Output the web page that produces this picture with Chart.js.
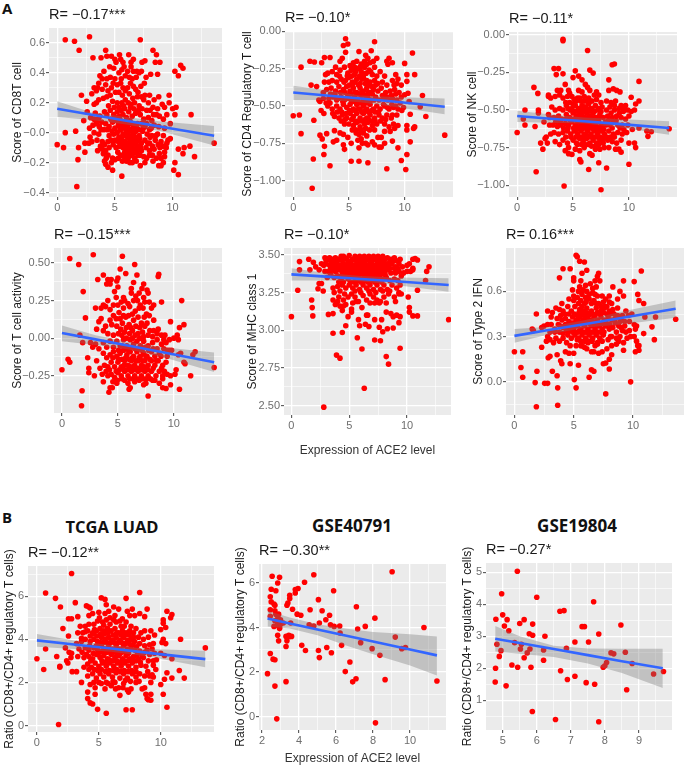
<!DOCTYPE html>
<html>
<head>
<meta charset="utf-8">
<title>ACE2 correlation scatter plots</title>
<script src="https://cdn.jsdelivr.net/npm/chart.js@4"></script>
<style>
  html, body { margin: 0; padding: 0; background: #fff; }
  #page { position: relative; width: 688px; height: 767px; overflow: hidden; font-family: "Liberation Sans", sans-serif; }
  canvas { position: absolute; }
  .tag { position: absolute; font: bold 15px "Open Sans", sans-serif; color: #111; line-height: 16px; }
  .head { position: absolute; font: bold 16.5px "Open Sans", sans-serif; color: #111; line-height: 20px; transform: translateX(-50%); white-space: nowrap; }
</style>
</head>
<body>
<div id="page">
  <div class="tag" style="left:2px;top:0px">A</div>
  <div class="tag" style="left:2px;top:509px">B</div>
  <div class="head" style="left:112px;top:517px">TCGA LUAD</div>
  <div class="head" style="left:352px;top:516px;font-size:17px">GSE40791</div>
  <div class="head" style="left:577px;top:516px;font-size:17px">GSE19804</div>
</div>
<script>
// values: [ACE2 level, score]
const cd8Points = [[0,-.08],[.55,-.1],[.7,.62],[.7,0],[1.5,.61],[1.6,.01],[1.9,.55],[1.85,-.1],[1.8,-.18],[1.7,-.36],[2.1,.25],[2.3,.08],[2.4,-.07],[2.4,-.13],[2.6,.14],[2.55,.21],[2.8,.64],[2.75,-.07],[3,.26],[3.1,.5],[3,-.06],[5.6,-.29],[7.2,.62],[8.3,.55],[8.6,.52],[8.9,.47],[8.5,.47],[10.7,.45],[10.9,.43],[10.2,.41],[10.5,.38],[11.6,.12],[10.3,.17],[10,.16],[10.2,.12],[9.7,.25],[9.7,.2],[10.5,-.28],[10.1,-.25],[10.2,-.2],[10.5,-.11],[10.9,-.14],[11,-.1],[11.5,-.09],[11.9,-.16],[13.6,-.07],
[3.8,.5],[4.2,.55],[4.3,.51],[4.7,.51],[5,.49],[5.1,.47],[5.4,.52],[5.5,.49],[6.2,.52],[6.4,.47],[6.6,.49],[7.6,.48],
[3.7,.38],[3.9,.36],[4.3,.36],[4.6,.37],[4.9,.43],[5,.36],[5.6,.42],[5.8,.44],[5.9,.38],[6.1,.41],[6.4,.44],[6.6,.41],[6.9,.41],[7.1,.4],[7.3,.41],[7.7,.37],[8.1,.39],[8.7,.39],[6.5,.36],[3.5,.3],[3.2,.3],
[3.6,.33],[3.4,.28],[3.9,.29],[4.4,.28],[4.7,.3],[5.2,.32],[5.5,.33],[5.7,.3],[5.9,.28],[6.1,.3],[6.6,.31],[6.8,.29],[7,.27],[7.3,.24],[7.6,.25],[8,.25],[8.4,.22],[8.8,.24],[9.1,.19],
[3.2,.19],[3.4,.2],[3.6,.22],[4,.23],[4.3,.24],[4.6,.25],[4.8,.21],[5.2,.2],[5.6,.2],[5.9,.22],[6.4,.19],[6.7,.2],[7.1,.18],[7.5,.22],[7.9,.2],[8.3,.17],[8.7,.16],[9.3,.17],
[2.9,.1],[3.3,.13],[3.7,.11],[4.1,.14],[4.3,.12],[4.6,.15],[4.9,.12],[5.2,.14],[5.4,.11],[5.7,.12],[6,.1],[6.2,.14],[6.5,.11],[6.8,.13],[7.2,.12],[7.5,.09],[7.9,.1],[8.2,.08],[8.6,.12],[9.2,.09],
[2.8,.03],[3.1,.05],[3.4,.06],[3.8,.02],[4.2,.06],[4.5,.04],[4.8,.07],[5,.03],[5.3,.05],[5.5,.08],[5.8,.06],[6.1,.04],[6.3,.08],[6.6,.05],[6.9,.03],[7.3,.06],[7.6,.04],[8,.02],[8.4,.05],[8.8,.04],[9.3,.03],[9.8,.06],
[3.2,0],[3.6,-.01],[4.5,-.02],[4.9,-.01],[5.2,0],[5.5,.02],[5.7,-.01],[6,.01],[6.2,-.02],[6.4,.02],[6.6,-.01],[6.8,.01],[7.1,-.02],[7.4,.01],[7.8,-.01],[8.2,-.02],[8.7,-.01],[9.2,-.02],[9.6,-.05],
[3.9,-.06],[4.1,-.08],[4.4,-.06],[5,-.05],[5.3,-.06],[5.6,-.04],[5.9,-.06],[6.1,-.03],[6.3,-.06],[6.5,-.04],[6.7,-.06],[7,-.05],[7.3,-.07],[7.6,-.05],[8,-.07],[8.5,-.05],[9,-.06],[9.5,-.07],[9.8,-.04],
[3.5,-.12],[3.9,-.11],[4.2,-.12],[4.5,-.1],[5.1,-.1],[5.4,-.09],[5.7,-.1],[6,-.11],[6.2,-.09],[6.5,-.1],[6.8,-.11],[7,-.09],[7.3,-.12],[7.7,-.1],[8,-.12],[8.4,-.11],[8.9,-.1],[9.3,-.13],
[4,-.14],[4.4,-.15],[4.8,-.17],[5.5,-.15],[5.8,-.16],[6.1,-.14],[6.4,-.15],[6.7,-.17],[7,-.15],[7.5,-.16],[8,-.15],[8.6,-.17],[9,-.17],[9.3,-.16],
[4.2,-.21],[4.4,-.23],[4.7,-.2],[5,-.18],[6,-.19],[6.3,-.2],[6.5,-.2],[7.2,-.22],[7.6,-.2],[8.3,-.19],[8.8,-.22],[9,-.22],[9.2,-.2],[4.8,-.25]];
const cd8Core = [[5.15,.08],[5.45,.02],[5.65,.05],[5.85,.03],[5.95,-.02],[6.05,-.08],[6.15,.07],[6.25,.01],[6.35,-.03],[6.45,.06],[6.55,-.07],[6.6,.03],[6.75,-.03],[6.85,-.08],[6.95,.06],[7.05,.02],[7.15,-.04],[7.25,-.1],[5.35,-.03],[5.5,-.07],[5.75,-.07],[5.85,-.13],[6.15,-.12],[6.35,-.12],[6.55,-.14],[6.75,-.13],[6.95,-.12],[7.15,-.15],[5.25,-.13],[4.85,-.08],[4.65,-.05],[4.75,.01],[4.35,.02],[4.05,.02],[3.65,.04],[4.65,.09],[5.05,.09],[5.25,.1],[5.55,.15],[5.85,.16],[6.35,.17],[6.65,.16],[7.05,.15],[7.35,.16],[4.45,.18],[4.95,.17],[5.35,.17],[5.75,.18],[6.15,.2],[6.55,.23],[6.95,.24],[7.75,.15],[8.05,.15],[7.45,.03],[7.75,.06],[8.15,.03],[8.55,-.02],[8.05,-.03],[7.85,-.07],[8.25,-.09],[8.75,-.08],[9.15,-.09],[8.85,-.14],[8.25,-.15],[7.75,-.17],[5.65,.25],[6.25,.26],[5.35,.27],[4.85,.33],[5.05,.27],[6.35,.33],[7.25,.31],[7.55,.33],[4.2,.32],[4.05,.41],[5.35,.4],[5.55,.36],[6.25,.37],[6.85,.37],[7.35,.47],[5.7,.47],[4.55,.44],[3.85,.07],[3.55,.09],[3.2,.09],[2.85,-.03],[3.45,-.05],[3.75,-.09],[4.25,-.17],[4.1,-.19],[5.3,-.17],[5.65,-.19],[6.15,-.17],[6.85,-.19],[8.35,.12],[8.85,.11],[9.5,.12],[9.45,-.1]];

const tregPoints = [[0,-.565],[.55,-.56],[.7,-.24],[.7,-.685],[1.5,-.2],[1.6,-.36],[1.9,-.205],[1.85,-.595],[1.8,-.855],[1.7,-1.05],[2.1,-.37],[2.3,-.46],[2.4,-.47],[2.5,-.53],[2.4,-.695],[2.55,-.21],[2.8,-.175],[2.75,-.55],[2.6,-.72],[2.8,-.77],[2.75,-.825],[3,-.685],[3.3,-.175],[3.3,-.9],[4.7,-.05],[4.9,-.085],[4.5,-.095],[4.7,-.14],[7.3,-.07],[5.9,-.135],[7,-.13],[6.5,-.16],[8.4,-.2],[8.6,-.18],[8.9,-.21],[8.5,-.22],[10,-.215],[10.7,-.145],[10.9,-.29],[10.2,-.29],[10.2,-.335],[11.6,-.43],[11.9,-.57],[11.4,-.505],[10.3,-.415],[10,-.425],[10.4,-.47],[10.5,-.555],[10.2,-.63],[10.2,-.66],[10.9,-.64],[10.8,-.65],[10.5,-.74],[10.2,-.825],[10.1,-.925],[9.7,-.865],[9.4,-.78],[8.4,-.92],[13.6,-.695],[5.2,-.87],[5.9,-.87],[6.7,-.88],[4.6,-.79],[4.5,-.76],[3.6,-.74],[3.9,-.73],[3.7,-.665],[4.2,-.68],[4.5,-.69],[4.9,-.71],[5.2,-.75],[5.9,-.78],[6.2,-.75],[6.5,-.75],[6.7,-.76],[7.1,-.74],[7.3,-.76],[7.7,-.775],[7.9,-.775],[8.2,-.75],[8.9,-.735],
[4.2,-.2],[4.4,-.18],[3.8,-.24],[5.1,-.23],[5.4,-.21],[5.7,-.2],[6.1,-.22],[6.4,-.2],[6.7,-.18],[6.9,-.21],[7.2,-.2],[7.5,-.18],
[2.9,-.29],[3.1,-.28],[3.5,-.27],[3.9,-.29],[4.2,-.26],[4.6,-.24],[4.9,-.28],[5.2,-.26],[5.5,-.29],[5.8,-.25],[6.1,-.27],[6.4,-.24],[6.8,-.26],[7.1,-.29],[7.5,-.3],[7.8,-.27],[8.2,-.3],[9.2,-.29],[9.4,-.32],
[2.8,-.34],[3.2,-.34],[3.5,-.33],[3.9,-.34],[4.3,-.32],[4.7,-.33],[5,-.31],[5.3,-.34],[5.7,-.32],[6,-.35],[6.3,-.31],[6.6,-.33],[6.9,-.34],[7.3,-.33],[7.6,-.35],[8,-.34],[8.4,-.36],[8.9,-.33],[9.3,-.35],[9.7,-.36],
[2.7,-.41],[3,-.39],[3.4,-.38],[3.8,-.4],[4.1,-.37],[4.5,-.39],[4.8,-.37],[5.1,-.4],[5.4,-.38],[5.7,-.41],[6,-.38],[6.3,-.4],[6.6,-.38],[6.9,-.41],[7.2,-.39],[7.6,-.4],[7.9,-.38],[8.3,-.41],[8.7,-.4],[9.1,-.39],[9.5,-.41],
[2.7,-.45],[3.2,-.45],[3.6,-.44],[3.9,-.46],[4.3,-.44],[4.6,-.46],[4.9,-.43],[5.2,-.46],[5.5,-.44],[5.8,-.46],[6.1,-.43],[6.4,-.46],[6.7,-.44],[7,-.46],[7.4,-.44],[7.7,-.46],[8.1,-.45],[8.5,-.46],[8.9,-.45],[9.3,-.46],[9.7,-.44],
[3.1,-.5],[3.5,-.52],[3.9,-.5],[4.2,-.52],[4.5,-.49],[4.8,-.51],[5.1,-.49],[5.4,-.52],[5.7,-.49],[6,-.52],[6.3,-.5],[6.6,-.52],[6.9,-.49],[7.2,-.52],[7.5,-.5],[7.8,-.52],[8.2,-.5],[8.6,-.52],[9,-.51],[9.4,-.52],[9.9,-.51],
[3.7,-.57],[4.1,-.58],[4.4,-.56],[4.8,-.58],[5.1,-.55],[5.4,-.57],[5.7,-.55],[6,-.58],[6.3,-.55],[6.6,-.58],[6.9,-.56],[7.3,-.58],[7.7,-.56],[8,-.58],[8.4,-.56],[8.8,-.58],[9.3,-.56],
[4.6,-.62],[5,-.62],[5.4,-.63],[5.7,-.61],[6,-.64],[6.4,-.62],[6.7,-.61],[7.1,-.63],[7.5,-.62],[8.2,-.62],[8.6,-.64],[9,-.62],[9.4,-.63],[8.7,-.67],[9.1,-.65],
[5.6,-.66],[5.9,-.69],[6.3,-.68],[6.1,-.72],[6.6,-.7],[7.6,-.71],[7.9,-.71],[5.8,-.73],[8.2,-.67]];
const tregCore = [[4.65,-.41],[4.95,-.45],[5.15,-.42],[5.35,-.47],[5.55,-.41],[5.65,-.47],[5.85,-.42],[5.95,-.48],[6.15,-.41],[6.25,-.47],[6.45,-.43],[6.55,-.48],[6.75,-.41],[6.85,-.47],[7.1,-.42],[7.25,-.46],[4.45,-.47],[4.25,-.41],[4.05,-.45],[3.75,-.42],[3.35,-.42],[5.05,-.36],[5.3,-.36],[5.55,-.34],[5.85,-.36],[6.15,-.32],[6.45,-.35],[6.75,-.36],[7.05,-.37],[7.4,-.36],[4.55,-.34],[4.15,-.3],[4.85,-.3],[5.25,-.3],[5.6,-.27],[5.95,-.3],[6.25,-.29],[6.55,-.28],[6.95,-.27],[7.3,-.24],[5.5,-.24],[6,-.24],[6.6,-.22],[4.75,-.55],[5.05,-.53],[5.25,-.53],[5.55,-.53],[5.85,-.52],[6.15,-.54],[6.45,-.53],[6.75,-.54],[7.05,-.53],[7.35,-.54],[7.65,-.54],[4.35,-.54],[3.95,-.54],[3.55,-.55],[5.25,-.59],[5.55,-.6],[5.85,-.6],[6.15,-.6],[6.45,-.59],[6.75,-.59],[7.05,-.6],[7.35,-.6],[7.85,-.6],[8.3,-.59],[8.9,-.56],[4.65,-.59],[4.3,-.6],[5.3,-.66],[5.65,-.68],[6.05,-.66],[6.5,-.65],[6.85,-.66],[7.3,-.66],[8,-.43],[8.4,-.44],[8.8,-.43],[9.2,-.42],[8.1,-.49],[8.45,-.51],[8.85,-.49],[9.2,-.5],[9.6,-.48],[9.75,-.53],[2.95,-.48],[3.3,-.48],[9.05,-.36]];

const nkPoints = [[0,-.65],[.55,-.56],[.7,-.5],[.7,-.6],[1.5,-.35],[1.6,-.61],[1.85,-.39],[1.9,-.5],[1.9,-.52],[1.7,-.91],[2.1,-.72],[2.3,-.76],[2.4,-.58],[2.5,-.69],[2.6,-.68],[2.7,-.72],[2.8,-.4],[2.8,-.53],[3.3,-.225],[3.7,-.225],[3.5,-.265],[4.1,-.26],[4.1,-.03],[4.1,-.04],[4.2,-1.005],[6.3,-.105],[6.5,-.235],[6.8,-.255],[5.2,-.24],[5.5,-.275],[5,-.285],[4.3,-.33],[8.5,-.2],[8.7,-.195],[8.2,-.3],[8.6,-.36],[8.9,-.37],[9.2,-.38],[8.2,-.37],[10.9,-.31],[10.2,-.415],[10.9,-.44],[10.6,-.46],[10.2,-.51],[10.5,-.5],[10,-.54],[10.3,-.63],[10.9,-.62],[11.6,-.64],[11.7,-.675],[12,-.645],[13.6,-.625],[10.5,-.72],[10.6,-.75],[10,-.72],[10,-.86],[7.5,-1.03],[8,-.885],[6.4,-.895],[7.3,-.85],[5.6,-.83],[5.7,-.845],[4.6,-.79],[4.9,-.795],
[5.8,-.3],[6.1,-.33],[6.3,-.35],[6.5,-.37],[3.6,-.37],[3.9,-.37],[4.6,-.37],[4.7,-.39],[5.5,-.37],[5.8,-.38],[7.1,-.38],[6.9,-.4],[7.3,-.4],[2.8,-.41],[3,-.42],[3.4,-.41],[3.8,-.4],[4.1,-.42],[4.5,-.41],[5.1,-.43],[5.4,-.42],[5.7,-.44],[6,-.41],[6.4,-.42],[6.7,-.44],[7.1,-.43],[7.5,-.45],[8,-.44],[8.4,-.45],[8.8,-.44],[9.3,-.47],[9.7,-.47],
[3.1,-.48],[3.4,-.5],[3.8,-.49],[4.1,-.5],[4.4,-.47],[4.7,-.45],[4.9,-.49],[5.2,-.47],[5.5,-.49],[5.8,-.47],[6.1,-.48],[6.4,-.46],[6.7,-.49],[7,-.47],[7.3,-.49],[7.6,-.48],[8,-.5],[8.3,-.48],[8.7,-.5],[9.1,-.49],[9.5,-.51],[9.9,-.5],
[2.9,-.55],[3.3,-.55],[3.7,-.54],[4,-.56],[4.4,-.53],[4.7,-.55],[5,-.52],[5.3,-.54],[5.6,-.52],[5.9,-.55],[6.2,-.52],[6.5,-.54],[6.8,-.52],[7.1,-.55],[7.4,-.53],[7.7,-.55],[8.1,-.54],[8.5,-.55],[8.9,-.54],[9.3,-.55],[9.7,-.56],
[2.9,-.6],[3.2,-.6],[3.6,-.61],[3.9,-.6],[4.3,-.59],[4.6,-.6],[4.9,-.58],[5.2,-.6],[5.5,-.58],[5.8,-.6],[6.1,-.58],[6.4,-.6],[6.7,-.58],[7,-.6],[7.3,-.58],[7.6,-.6],[7.9,-.58],[8.3,-.6],[8.6,-.58],[9,-.6],[9.4,-.6],[9.9,-.6],
[3,-.66],[3.3,-.65],[3.7,-.66],[4.1,-.65],[4.5,-.64],[4.8,-.66],[5.1,-.64],[5.4,-.66],[5.7,-.64],[6,-.66],[6.3,-.64],[6.6,-.66],[6.9,-.64],[7.2,-.66],[7.5,-.64],[7.8,-.66],[8.2,-.64],[8.6,-.66],[9,-.65],[9.4,-.66],[9.8,-.65],
[3.4,-.71],[3.8,-.73],[4.1,-.7],[4.5,-.72],[5,-.7],[5.3,-.72],[5.6,-.69],[5.9,-.71],[6.2,-.69],[6.5,-.72],[6.8,-.7],[7.1,-.72],[7.4,-.7],[7.7,-.72],[8.1,-.7],[8.5,-.71],[8.9,-.72],[9.3,-.7],
[4.3,-.77],[4.6,-.75],[5.2,-.76],[5.6,-.77],[6,-.75],[6.5,-.79],[6.7,-.8],[7,-.76],[7.4,-.76],[7.8,-.75],[8.2,-.75],[8.8,-.76],[9.1,-.76],[9.3,-.78]];
const nkCore = [[5.05,-.56],[5.35,-.57],[5.5,-.55],[5.65,-.57],[5.8,-.54],[5.95,-.57],[6.05,-.55],[6.2,-.56],[6.35,-.55],[6.5,-.57],[6.65,-.55],[6.8,-.57],[6.95,-.55],[7.15,-.57],[7.3,-.56],[5.05,-.62],[5.3,-.63],[5.45,-.62],[5.6,-.61],[5.75,-.63],[5.95,-.62],[6.1,-.61],[6.25,-.63],[6.4,-.62],[6.55,-.62],[6.7,-.61],[6.85,-.63],[7.05,-.62],[7.2,-.63],[7.45,-.61],[7.75,-.63],[4.55,-.62],[4.75,-.57],[4.35,-.56],[4.15,-.62],[3.85,-.58],[3.45,-.58],[5.2,-.51],[5.45,-.5],[5.65,-.5],[5.85,-.51],[6,-.48],[6.2,-.5],[6.35,-.51],[6.55,-.49],[6.7,-.51],[6.9,-.51],[7.2,-.5],[7.5,-.51],[4.55,-.49],[4.75,-.5],[5,-.46],[5.3,-.44],[5.6,-.42],[6.15,-.44],[6.55,-.44],[5.95,-.44],[5.25,-.68],[5.5,-.68],[5.7,-.68],[5.95,-.68],[6.2,-.67],[6.4,-.68],[6.65,-.68],[6.9,-.68],[7.15,-.68],[7.4,-.68],[7.7,-.69],[8,-.68],[8.35,-.68],[8.7,-.68],[4.8,-.68],[4.35,-.68],[5.4,-.73],[5.75,-.73],[6.05,-.73],[6.35,-.73],[6.65,-.74],[7,-.74],[7.3,-.73],[7.95,-.6],[8.15,-.57],[8.5,-.62],[8.85,-.57],[9.2,-.62],[9.55,-.63],[8.4,-.52],[8.7,-.47],[9.15,-.52],[9.5,-.49],[4.9,-.41],[4.35,-.45]];

const activityPoints = [[0,-.21],[.55,-.14],[.7,.53],[.7,-.16],[1.5,.49],[1.6,.02],[1.9,.31],[1.85,-.03],[1.8,-.35],[1.75,-.45],[2.1,.135],[2.3,-.13],[2.4,-.2],[2.4,-.23],[2.55,-.03],[2.8,.555],[2.75,-.06],[3,.2],[3.2,.39],[2.9,-.25],[5.4,.545],[5.2,.46],[5.7,.43],[6.5,.49],[6.7,.42],[8.6,.41],[8.65,.425],[7.3,.36],[6.4,.37],[7.6,.32],[7.7,.3],[3.7,.42],[4.1,.39],[4,.36],[4.4,.39],[4.9,.38],[5,.4],[4.3,.36],[4.7,.31],[5,.34],[8.9,.24],[9.7,.11],[10.7,.25],[10.9,.09],[10.5,.07],[10.3,.02],[10,0],[10.4,-.01],[9.6,-.08],[10.4,-.11],[10.6,-.1],[10.9,-.16],[11,-.17],[11.7,-.11],[11.9,-.09],[11.5,-.25],[13.6,-.195],[10.5,-.34],[9,-.33],[9.3,-.335],[9.7,-.31],[7.7,-.385],[4.2,-.36],[4.5,-.33],[4.3,-.33],[4.9,-.3],[6,-.34],
[3.5,.2],[3.7,.22],[3.9,.21],[4.1,.25],[4.6,.22],[5,.22],[5.3,.24],[5.6,.25],[5.9,.23],[6.2,.3],[6.6,.28],[6.9,.3],[7.3,.27],[7.4,.24],[7.8,.24],[8.2,.22],[8,.2],[5.5,.2],[6.4,.25],[7,.22],
[3.1,.06],[3.3,.11],[3.5,.13],[3.9,.08],[4.3,.12],[4.6,.15],[4.9,.08],[5.1,.17],[5.4,.1],[5.7,.14],[6,.09],[6.4,.12],[6.8,.14],[7.1,.1],[7.4,.08],[7.8,.15],[8.2,.05],[8.6,.06],[4.1,.03],[4.6,.02],[5.6,.04],[6.3,.05],[6.8,.03],[7.2,.04],[7.7,.02],[8.1,.01],[8.9,.02],[9.2,.02],
[3,-.04],[3.3,-.07],[3.7,-.03],[4,-.06],[4.3,-.02],[4.6,-.06],[4.9,-.02],[5.2,-.05],[5.5,-.01],[5.8,-.05],[6.1,-.01],[6.4,-.04],[6.7,-.02],[7,-.05],[7.3,-.02],[7.7,-.05],[8.1,-.03],[8.5,-.01],[8.9,-.04],[9.3,-.03],[9.6,-.01],
[3.7,-.1],[4,-.13],[4.3,-.11],[4.6,-.09],[4.9,-.12],[5.2,-.1],[5.5,-.08],[5.8,-.11],[6.1,-.09],[6.4,-.12],[6.7,-.09],[7,-.12],[7.3,-.1],[7.6,-.12],[8,-.09],[8.3,-.12],[8.7,-.1],[9.1,-.07],[9.4,-.12],[9.8,-.08],
[3.1,-.15],[3.4,-.2],[3.8,-.18],[4.1,-.19],[4.4,-.16],[4.7,-.19],[5,-.16],[5.3,-.19],[5.6,-.15],[5.9,-.18],[6.2,-.15],[6.5,-.18],[6.8,-.15],[7.1,-.18],[7.4,-.15],[7.7,-.18],[8,-.15],[8.3,-.18],[8.6,-.15],[9,-.18],[9.3,-.16],
[3.6,-.24],[3.7,-.29],[4.1,-.25],[4.4,-.24],[4.7,-.26],[5,-.23],[5.3,-.25],[5.6,-.22],[5.9,-.25],[6.2,-.22],[6.5,-.25],[6.8,-.22],[7.1,-.25],[7.4,-.22],[7.7,-.25],[8,-.22],[8.4,-.25],[8.7,-.22],[9,-.25],[9.4,-.24],[10.1,-.24],[10.2,-.21],[9.7,-.25],
[5.6,-.28],[5.9,-.3],[6.1,-.33],[6.5,-.29],[6.9,-.28],[7.3,-.31],[7.5,-.3],[8.1,-.28],[8.7,-.3],[9,-.27]];
const activityCore = [[5.05,-.14],[5.35,-.14],[5.55,-.18],[5.7,-.13],[5.85,-.21],[6,-.14],[6.15,-.19],[6.3,-.13],[6.45,-.21],[6.6,-.15],[6.75,-.2],[6.9,-.13],[7.05,-.21],[7.2,-.15],[7.35,-.19],[7.5,-.12],[7.65,-.21],[7.85,-.14],[8.15,-.2],[8.45,-.15],[4.85,-.22],[4.55,-.13],[4.25,-.21],[3.95,-.22],[5.15,-.21],[5.45,-.2],[6.05,-.27],[6.35,-.27],[6.65,-.27],[6.95,-.27],[7.25,-.27],[7.55,-.27],[7.9,-.27],[5.35,-.27],[4.95,-.28],[4.55,-.29],[5.05,-.08],[5.35,-.05],[5.65,-.06],[5.95,-.08],[6.25,-.06],[6.55,-.07],[6.85,-.07],[7.15,-.08],[7.45,-.06],[7.75,-.08],[8.15,-.07],[8.5,-.07],[8.85,-.12],[5.05,.03],[5.35,.02],[5.75,0],[6.05,.03],[6.3,0],[6.55,.02],[6.95,0],[7.3,.01],[7.85,.05],[5.25,.06],[5.75,.07],[6.15,.07],[6.6,.08],[6.95,.07],[7.35,.14],[7.6,.1],[6.3,.16],[6.55,.18],[6.9,.2],[5.95,.15],[5.5,.15],[5.2,.13],[4.85,.13],[4.3,.19],[4.45,.09],[3.7,.05],[4.85,.27],[5.5,.27],[6.05,.21],[6.75,.25],[7.25,.2],[7.55,.16],[8.2,.12],[8.5,.03],[9.1,-.01],[9.4,-.08],[8.9,-.2],[9.15,-.22],[8.3,-.28],[6.2,.33],[7.15,.33]];

const mhcPoints = [[0,3.09],[.55,3.265],[.7,3.455],[.7,3.4],[1.5,3.47],[1.6,3.4],[1.9,3.45],[1.75,3.2],[1.8,3.15],[1.85,3.095],[2.1,3.42],[2.3,3.275],[2.4,3.4],[2.4,3.31],[2.6,3.31],[2.75,3.26],[2.8,2.49],[3.2,3.105],[3.6,2.98],[3.6,3.11],[3.9,2.835],[4.2,2.815],[4.4,2.985],[4.7,3.03],[4.9,3.09],[5.7,2.95],[6.1,2.875],[6.3,2.615],[5.8,3.07],[5.9,3.03],[6.4,3.04],[6.6,3.1],[6.7,3.025],[7.2,3.07],[7.2,2.935],[7.6,3.02],[7.7,2.93],[7.8,3.07],[7.9,2.99],[8.2,2.825],[8.3,3.01],[8.4,2.775],[8.2,3.12],[8.8,3.015],[9.4,2.88],[9.1,3.1],[9.4,3.09],[9.3,3.05],[10.5,3.095],[10.9,3.095],[10.9,3.265],[10.1,3.22],[10.2,3.15],[10.2,3.12],[11.6,3.33],[11.7,3.39],[11.9,3.42],[13.6,3.07],
[2.6,3.44],[2.9,3.48],[3.1,3.47],[3.3,3.48],[3.5,3.47],[3.8,3.48],[4.1,3.47],[4.3,3.49],[4.5,3.49],[4.8,3.47],[5,3.495],[5.3,3.47],[5.5,3.49],[5.7,3.47],[5.9,3.49],[6.1,3.47],[6.3,3.49],[6.5,3.47],[6.7,3.49],[6.9,3.47],[7.1,3.49],[7.3,3.47],[7.5,3.49],[7.7,3.47],[7.9,3.49],[8.1,3.47],[8.3,3.48],[8.6,3.47],[8.9,3.48],[9.1,3.46],[9.4,3.47],[10.5,3.47],[10.7,3.475],[10.9,3.465],
[2.8,3.43],[3,3.44],[3.3,3.43],[3.6,3.44],[3.9,3.44],[4.2,3.43],[4.5,3.44],[4.8,3.43],[5.1,3.44],[5.4,3.43],[5.7,3.44],[6,3.43],[6.3,3.44],[6.6,3.43],[6.9,3.44],[7.2,3.43],[7.5,3.44],[7.8,3.43],[8.1,3.44],[8.4,3.43],[8.7,3.44],[9,3.42],[9.3,3.44],[10,3.43],[10.2,3.44],[10.5,3.41],
[2.9,3.39],[3.2,3.39],[3.5,3.4],[3.8,3.39],[4.1,3.4],[4.4,3.39],[4.7,3.4],[5,3.39],[5.3,3.4],[5.6,3.39],[5.9,3.4],[6.2,3.39],[6.5,3.4],[6.8,3.39],[7.1,3.4],[7.4,3.39],[7.7,3.4],[8,3.39],[8.3,3.4],[8.6,3.38],[9,3.38],[9.3,3.39],[9.7,3.38],[10,3.39],[10.3,3.39],[10.5,3.4],
[3.1,3.35],[3.7,3.35],[4,3.36],[4.3,3.34],[4.6,3.36],[4.9,3.34],[5.2,3.36],[5.5,3.35],[5.8,3.36],[6.1,3.34],[6.4,3.36],[6.7,3.34],[7,3.36],[7.3,3.34],[7.6,3.36],[7.9,3.34],[8.2,3.35],[8.5,3.33],[8.9,3.34],[9.2,3.33],
[3.6,3.28],[3.7,3.25],[4,3.29],[4.4,3.3],[4.7,3.28],[5,3.3],[5.3,3.28],[5.6,3.3],[5.9,3.27],[6.2,3.3],[6.5,3.28],[6.8,3.3],[7.1,3.27],[7.4,3.3],[7.7,3.27],[8,3.3],[8.3,3.27],[8.7,3.3],[9.1,3.28],[9.4,3.3],
[3.6,3.2],[4.1,3.22],[4.2,3.16],[4.5,3.2],[4.9,3.22],[5.2,3.24],[5.5,3.22],[5.8,3.19],[6.2,3.23],[6.5,3.2],[6.8,3.24],[7.1,3.22],[7.4,3.2],[7.6,3.18],[8,3.22],[8.4,3.24],[8.9,3.22],[9.3,3.24],[9.5,3.24],
[4.4,3.13],[4.5,3.16],[5.2,3.14],[5.2,3.12],[6.1,3.15],[6.5,3.1],[7.7,3.19],[8.6,3.11],[8.8,3.09]];
const mhcCore = [[3,3.46],[3.4,3.46],[3.7,3.46],[4,3.46],[4.4,3.46],[4.6,3.48],[4.9,3.45],[5.2,3.46],[5.6,3.46],[6,3.46],[6.2,3.45],[6.4,3.46],[6.8,3.45],[7,3.46],[7.4,3.46],[7.8,3.45],[8,3.46],[8.5,3.45],[8.8,3.46],[9.6,3.42],[3.4,3.41],[3.7,3.42],[4,3.42],[4.3,3.41],[4.6,3.42],[4.9,3.41],[5.2,3.42],[5.5,3.41],[5.8,3.42],[6.1,3.41],[6.4,3.42],[6.7,3.41],[7,3.42],[7.3,3.41],[7.6,3.42],[7.9,3.41],[8.2,3.42],[8.5,3.41],[8.9,3.41],[9.2,3.41],[5,3.37],[5.3,3.37],[5.6,3.37],[5.9,3.38],[6.2,3.37],[6.5,3.37],[6.8,3.37],[7.1,3.37],[7.4,3.37],[7.7,3.37],[8.1,3.37],[4.4,3.37],[4.7,3.37],[3.4,3.37],[9.5,3.36],[5.4,3.32],[5.7,3.33],[6,3.32],[6.3,3.33],[6.6,3.32],[6.9,3.33],[7.2,3.32],[7.5,3.33],[7.8,3.32],[4.5,3.32],[4.1,3.32],[5.1,3.32],[4.2,3.26],[4.6,3.24],[5.5,3.26],[6,3.25],[6.7,3.26],[7.3,3.25],[7.9,3.26],[8.5,3.26],[9.3,3.25],[4,3.19],[4.7,3.17],[5.3,3.18],[5.6,3.19],[6.8,3.18],[7.2,3.18],[9,3.19],[3.8,3.17],[8.2,3.18]];

const ifnPoints = [[0,.2],[.55,.095],[.7,.2],[.7,.03],[1.5,.35],[1.6,.34],[1.9,.07],[1.75,-.005],[1.85,.45],[1.85,-.165],[2.3,.23],[2.5,.37],[2.55,-.01],[2.8,-.01],[2.85,.16],[3,.17],[3.2,.07],[3.6,.04],[3.65,-.04],[3.65,-.155],[3.8,.69],[4.1,.75],[4.7,.75],[5,.69],[5,.67],[5.2,.84],[5.3,.83],[5.5,.8],[5.9,.795],[5.7,.72],[6.1,.74],[7.1,.72],[7,.7],[5.05,.015],[5.2,-.04],[5.4,.11],[6.3,.03],[6.5,.08],[6.7,.07],[7.7,-.08],[8,.085],[7.5,.12],[7.7,.125],[8,.15],[8.2,.18],[9.8,0],[8.3,.63],[8.9,.6],[9.2,.67],[10.1,.665],[10.7,.735],[10.4,.58],[10.5,.54],[10.9,.52],[9.2,.57],[8.7,.55],[11,.43],[11.9,.43],[11.6,.365],[11.8,.28],[13.6,.415],[10.9,.32],[10.3,.27],[10.4,.24],[10.5,.24],[10.2,.2],[10.5,.21],[9.2,.21],[9.2,.26],[8.6,.25],[8.2,.24],
[5.6,.67],[6,.64],[6.4,.65],[6.8,.67],[7.2,.67],[6.9,.63],[4.9,.61],[5.4,.6],[5.7,.58],[6.1,.6],[6.6,.59],[7,.57],[7.4,.57],[8,.57],[4,.52],[4.6,.55],[5,.54],[5.3,.56],[5.6,.54],[5.9,.52],[6.3,.55],[6.7,.54],[7.1,.52],[7.5,.53],[7.8,.5],[8.2,.52],[8.7,.49],
[2.8,.47],[3.1,.43],[3.2,.46],[3.5,.49],[3.8,.48],[4.1,.47],[4.5,.5],[4.8,.47],[5.1,.5],[5.5,.48],[5.8,.47],[6.1,.49],[6.5,.47],[6.9,.49],[7.3,.47],[7.6,.49],[8,.47],[8.3,.48],[8.7,.44],[9.1,.44],[9.4,.47],[9.6,.44],[9.9,.45],
[2.8,.38],[3.1,.38],[3.4,.35],[3.7,.38],[4,.41],[4.3,.42],[4.6,.4],[4.9,.43],[5.2,.41],[5.5,.43],[5.8,.41],[6.1,.43],[6.4,.41],[6.7,.43],[7,.41],[7.3,.43],[7.6,.41],[7.9,.43],[8.2,.41],[8.5,.42],[8.9,.4],[9.3,.4],[9.7,.4],[10.1,.38],
[2.3,.36],[2.8,.3],[3,.28],[3.5,.29],[3.8,.33],[4.1,.36],[4.4,.34],[4.7,.37],[5,.35],[5.3,.37],[5.6,.35],[5.9,.37],[6.2,.35],[6.5,.37],[6.8,.35],[7.1,.37],[7.4,.35],[7.7,.37],[8,.35],[8.3,.36],[8.6,.33],[9,.36],[9.4,.33],[9.7,.34],[10.2,.35],[10.3,.37],
[2.7,.27],[3.3,.26],[3.8,.27],[4.1,.29],[4.5,.31],[4.8,.29],[5.1,.31],[5.4,.29],[5.7,.31],[6,.29],[6.3,.31],[6.6,.29],[6.9,.31],[7.2,.29],[7.5,.31],[7.9,.28],[8.2,.3],[8.6,.29],[8.9,.3],[9.5,.29],[9.8,.3],[10.1,.3],
[3.6,.18],[3.9,.14],[4,.12],[4.3,.2],[4.6,.19],[4.7,.12],[5,.19],[5.2,.24],[5.6,.24],[5.9,.23],[6.2,.26],[6.5,.2],[6.8,.24],[7.1,.19],[7.4,.2],[7.8,.22]];
const ifnCore = [[5.05,.45],[5.3,.44],[5.45,.46],[5.65,.45],[5.85,.44],[6.05,.46],[6.25,.44],[6.4,.46],[6.6,.45],[6.8,.44],[7,.46],[7.2,.45],[7.5,.46],[7.8,.45],[8.1,.45],[5.05,.39],[5.3,.39],[5.45,.4],[5.65,.39],[5.85,.38],[6.05,.4],[6.25,.39],[6.45,.38],[6.6,.4],[6.85,.38],[7.05,.39],[7.25,.38],[7.5,.39],[7.75,.39],[8.05,.38],[5.05,.33],[5.35,.33],[5.5,.34],[5.7,.33],[5.95,.33],[6.1,.33],[6.35,.33],[6.55,.33],[6.75,.33],[7,.33],[7.25,.33],[7.55,.33],[4.65,.34],[4.3,.38],[4.6,.45],[4.25,.45],[3.9,.44],[3.6,.42],[8.5,.39],[8.4,.45],[8.8,.37],[9,.41],[9.3,.37],[5.4,.52],[5.7,.5],[6.05,.53],[6.5,.52],[6.9,.52],[7.3,.5],[7.6,.5],[8,.53],[5,.57],[5.5,.63],[6,.56],[6.3,.58],[6.8,.58],[7.7,.55],[5.3,.28],[5.6,.27],[5.95,.27],[6.25,.27],[6.55,.27],[7,.26],[7.4,.27],[5.7,.24],[6.1,.22],[6.7,.2],[7,.25],[4.7,.24],[4.4,.26],[3.4,.33],[3,.33],[3.9,.37],[8.8,.27],[8.1,.3],[9.1,.34],[4.1,.32],[4.9,.39],[4.9,.33],[6.6,.62],[5.8,.61]];

const ratioPoints = [[0,3.1],[.55,2.6],[.7,6.15],[.7,3.55],[1.5,5.9],[1.6,3.2],[1.9,5.5],[1.85,2.75],[1.85,2.7],[1.75,.05],[2.1,4.5],[2.3,3.6],[2.4,3],[2.5,2.9],[2.55,4.15],[2.55,4.95],[2.8,4.95],[2.8,7.05],[2.6,3.4],[2.75,3.15],[2.8,3.35],[2.85,2.5],[3.1,5.7],[3.3,5.05],[3.2,2.5],[3.3,3.2],[3.6,2],[4,5.55],[4.2,5.5],[4.3,5.45],[4.2,2.6],[4.1,1.55],[4.1,1.25],[4.3,1.05],[4.5,1],[4.7,1.45],[4.9,.75],[5.6,.57],[7.2,.73],[7.7,.73],[8.3,6.17],[7.2,5.9],[5.2,5.92],[5.5,5.85],[5.6,5.6],[6.2,5.5],[7.3,5.3],[7.7,5.4],[8.3,5.2],[8.7,5.05],[8.9,5.4],[9,1.2],[9.2,1.17],[9.2,1.45],[8.9,1.25],[8.7,1.75],[10,1.9],[10.2,1.45],[10.5,.85],[10.3,2.15],[10.5,2.45],[10.9,2.2],[11.5,2.55],[11.9,2.2],[13.6,3.6],[11.6,4],[10.9,5.15],[10.8,5],[10.5,5.3],[10.2,4.9],[10.2,4.75],[10.4,4.55],[10,4.45],[10.2,4],[10.4,3.8],[10.1,3.85],[10.3,3.25],[10.9,3.1],[10,3.35],
[4.2,5.1],[4.5,5.2],[5,5.25],[5.5,5.2],[5.8,5.3],[6.2,4.9],[6.6,5.4],[6.9,4.95],[7.5,5.1],[7.9,5.1],[3.5,4.6],[3.9,4.6],[4.2,4.7],[4.6,4.7],[4.9,4.85],[5.3,4.8],[5.6,4.9],[5.9,4.7],[6.4,4.8],[6.8,4.6],[7.2,4.8],[7.6,4.6],[8,4.5],[8.4,4.3],[8.7,4.4],[9.2,4.4],[3.3,4.3],[3.7,4.3],[4.1,4.4],[4.5,4.3],[4.8,4.4],[5.1,4.5],[5.4,4.4],[5.7,4.5],[6,4.4],[6.3,4.5],[6.6,4.3],[6.9,4.4],[7.2,4.3],[7.5,4.4],[7.8,4.3],[8.2,4.1],[8.6,4],[9,4.1],[9.5,4.2],
[3.2,3.8],[3.6,3.9],[3.9,4],[4.3,3.9],[4.6,4],[4.9,3.9],[5.2,4.1],[5.5,4],[5.8,4.1],[6.1,3.95],[6.4,4.1],[6.7,3.95],[7,4.1],[7.3,3.95],[7.6,4],[7.9,3.9],[8.3,3.8],[8.7,3.7],[9.1,3.75],[9.4,3.8],[3.4,3.55],[3.9,3.6],[4.2,3.5],[4.6,3.6],[4.9,3.5],[5.2,3.7],[5.5,3.55],[5.8,3.7],[6.1,3.55],[6.4,3.7],[6.7,3.55],[7,3.7],[7.3,3.55],[7.6,3.6],[7.9,3.5],[8.3,3.45],[8.7,3.4],[9.1,3.3],[9.5,3.35],
[3.8,3.15],[4.2,3.2],[4.5,3.1],[4.8,3.3],[5.1,3.15],[5.4,3.25],[5.7,3.1],[6,3.3],[6.3,3.15],[6.6,3.25],[6.9,3.1],[7.2,3.25],[7.5,3.1],[7.8,3.2],[8.2,3.1],[8.6,3.15],[9,3],[9.4,3],[3.8,2.7],[4.1,2.85],[4.4,2.7],[4.7,2.9],[5,2.75],[5.3,2.9],[5.6,2.75],[5.9,2.9],[6.2,2.75],[6.5,2.9],[6.8,2.75],[7.1,2.9],[7.4,2.75],[7.7,2.9],[8,2.7],[8.4,2.8],[8.8,2.75],[9.4,2.8],[9.6,2.6],
[4.1,2.3],[4.5,2.4],[4.8,2.2],[5.1,2.4],[5.4,2.25],[5.8,2.4],[6.1,2.25],[6.4,2.45],[6.7,2.2],[7,2.4],[7.3,2.2],[7.7,2.4],[8,2.25],[8.3,2.4],[8.7,2.3],[9.1,2.3],[9.4,2.25],[9.2,2],[4.3,1.9],[4.6,2],[5.2,1.95],[5.6,2],[6,1.85],[6.3,2],[6.6,1.75],[7,1.95],[7.3,1.65],[7.6,1.7],[8,2],[8.5,1.7],[6.7,1.4],[7.4,1.55],[5.5,1.7],[8.8,1.45]];
const ratioCore = [[5.05,3.4],[5.3,3.45],[5.45,3.55],[5.65,3.4],[5.85,3.45],[6,3.35],[6.2,3.45],[6.35,3.4],[6.55,3.45],[6.75,3.35],[6.95,3.45],[7.15,3.4],[7.4,3.35],[5.1,3.85],[5.35,3.85],[5.65,3.85],[5.95,3.85],[6.25,3.85],[6.55,3.85],[6.85,3.85],[7.15,3.8],[7.45,3.8],[7.75,3.75],[8.05,3.65],[5.25,3],[5.55,2.95],[5.85,3.05],[6.15,3],[6.45,3],[6.75,2.95],[7.05,3],[7.35,3],[7.65,3],[8,3],[8.35,2.95],[5.55,2.5],[5.85,2.55],[6.15,2.55],[6.45,2.6],[6.75,2.5],[7.05,2.55],[7.35,2.5],[7.65,2.55],[8,2.5],[4.65,2.6],[4.9,2.55],[5.2,2.6],[4.35,3],[4.55,3.35],[4.25,3.7],[3.65,3.4],[4,3.3],[4.85,4.15],[5.15,4.25],[5.45,4.25],[5.75,4.3],[6.15,4.2],[6.45,4.3],[6.8,4.2],[7.1,4.2],[7.45,4.2],[7.8,4.1],[4.6,4.25],[4.3,4.15],[3.9,4.35],[3.6,4.05],[4.8,3.7],[5.4,4.65],[5.9,5],[6.3,5.1],[6.7,4.85],[7.05,4.6],[5.05,5],[4.65,4.45],[8.1,3.3],[8.5,3.25],[8.9,3.5],[9.3,3.55],[9.65,3.05],[8.95,2.5],[9.3,2.35],[5,2],[5.75,1.95],[6.15,2.05],[7.15,2.1],[7.55,2.05],[8.25,2.05],[4.7,1.75],[6.35,1.7],[6.95,1.75]];

const gse40791Points = [[2.3,1.93],[2.45,2.83],[2.45,4.8],[2.45,5.38],[2.5,5.15],[2.5,5.72],[2.55,6.3],[2.45,4.5],[2.65,5.05],[2.7,5],[2.75,5.65],[2.85,6],[2.95,6.25],[2.7,4.75],[2.75,4.6],[2.85,4.5],[2.9,4.6],[2.85,4.35],[2.7,4.3],[2.65,4.05],[2.85,4.1],[2.95,4],[3,4.15],[2.95,3.95],[2.85,4.2],[3,4.35],[3.15,4.2],[2.85,3.65],[2.9,3.4],[2.6,2.58],[2.7,2.55],[2.7,1.37],[2.8,-.1],[3.3,1.57],[3.3,3.6],[3.35,3.4],[3.3,3.15],[3.45,3.65],[3.5,3.6],[3.55,4.2],[3.6,3.6],[3.35,5],[3.4,5.1],[3.5,5.3],[3.5,5.45],[3.65,4.82],[3.8,5.55],[3.8,5.7],[3.95,5.75],[4.3,6.03],[3.9,4.6],[4.1,4.55],[4.15,3.2],[4.35,2.97],[4.55,4.12],[4.6,4.8],[4.8,4.07],[4.8,6.37],[5.05,5.25],[5.1,4.2],[5.05,2.97],[5.1,2.65],[5.25,4.75],[5.45,4.35],[5.5,3.1],[5.65,4.55],[5.7,4.12],[5.75,2.87],[5.87,5.65],[5.9,4.05],[6.2,4.07],[6.22,3.75],[6.3,3.2],[6.5,2.02],[6.75,2.45],[6.9,1.56],[7.08,1.7],[7.1,4.93],[7.17,3.93],[7.33,3.32],[7.58,4.05],[7.95,3.05],[8.1,4.42],[8.13,-.28],[8.37,2.75],[8.65,1.66],[9.03,6.5],[9.2,3.57],[9.55,3.05],[9.75,3.1],[10.75,4],[11.45,1.6]];

const gse19804Points = [[4.78,1.57],[4.79,2],[4.8,3.53],[4.83,2.75],[4.9,2.37],[4.95,2.55],[4.97,4.33],[5,3.67],[5.05,3.32],[5.1,1.45],[5.13,3.52],[5.18,3.17],[5.27,2.1],[5.35,2.8],[5.43,5.03],[5.44,2.03],[5.5,3.4],[5.52,2.6],[5.55,2.75],[5.63,2.33],[5.63,3.52],[5.72,2.48],[5.78,3.08],[5.8,2.6],[5.83,2.03],[5.87,.65],[5.88,3.03],[5.88,3.38],[6,4.22],[6.2,2.57],[6.2,2.25],[6.24,3],[6.55,.4],[6.68,3.78],[6.7,1.92],[6.8,3.8],[6.87,2.62],[6.9,1.65],[7.12,2.82],[7.12,1.75],[7.33,3.3],[7.4,3.3],[7.45,1.55],[7.52,2.82],[7.67,4.08],[7.7,1.5],[7.82,.33],[7.82,3.07],[7.95,2.03],[8,2.08],[8.05,2.18],[8.18,2.48],[8.26,2.45],[8.47,3.35],[8.6,2.5],[8.64,1.33],[8.8,2.15],[9.43,1.82],[9.72,1.9]];

// regression lines and confidence bands
const bandX = [0, 3, 6, 9, 13.6];
const cd8Fit = [.16, .12, .08, .04, -.02];
const cd8Upper = [.21, .135, .105, .075, .045];
const cd8Lower = [.105, .085, .055, .01, -.085];
const tregFit = [-.41, -.43, -.45, -.47, -.505];
const tregUpper = [-.365, -.395, -.43, -.44, -.45];
const tregLower = [-.46, -.46, -.475, -.505, -.555];
const nkFit = [-.54, -.558, -.575, -.592, -.62];
const nkUpper = [-.505, -.53, -.55, -.56, -.575];
const nkLower = [-.58, -.585, -.59, -.615, -.665];
const activityFit = [.035, -.008, -.05, -.094, -.16];
const activityUpper = [.085, .02, -.025, -.06, -.095];
const activityLower = [-.02, -.045, -.075, -.125, -.225];
const mhcFit = [3.37, 3.355, 3.34, 3.325, 3.3];
const mhcUpper = [3.41, 3.38, 3.36, 3.35, 3.345];
const mhcLower = [3.33, 3.33, 3.325, 3.3, 3.255];
const ifnFit = [.305, .345, .384, .424, .485];
const ifnUpper = [.35, .365, .41, .465, .54];
const ifnLower = [.26, .315, .36, .38, .425];
const ratioFit = [3.95, 3.76, 3.57, 3.37, 3.08];
const ratioUpper = [4.25, 3.95, 3.72, 3.55, 3.47];
const ratioLower = [3.65, 3.55, 3.42, 3.2, 2.7];
const gse40791BandX = [2.3, 3.5, 5, 6.5, 8, 10, 11.45];
const gse40791Fit = [4.4, 4.18, 3.91, 3.64, 3.37, 3.01, 2.75];
const gse40791Upper = [4.75, 4.45, 4.15, 3.95, 3.8, 3.7, 3.6];
const gse40791Lower = [4.05, 3.95, 3.65, 3.2, 2.8, 2.3, 1.85];
const gse19804BandX = [4.78, 5.5, 6.5, 7.5, 8.5, 9.7];
const gse19804Fit = [2.92, 2.79, 2.6, 2.41, 2.22, 2];
const gse19804Upper = [3.32, 3, 2.7, 2.62, 2.61, 2.61];
const gse19804Lower = [2.52, 2.45, 2.35, 2.15, 1.85, 1.38];

// tick positions
const xTicksAll = [0, 5, 10];
const gse40791XTicks = [2, 4, 6, 8, 10];
const gse19804XTicks = [5, 6, 7, 8, 9];
const cd8YTicks = [-.4, -.2, 0, .2, .4, .6];
const tregYTicks = [-1, -.75, -.5, -.25, 0];
const nkYTicks = [-1, -.75, -.5, -.25, 0];
const activityYTicks = [-.5, -.25, 0, .25, .5];
const mhcYTicks = [2.5, 2.75, 3, 3.25, 3.5];
const ifnYTicks = [0, .3, .6];
const ratioYTicks = [0, 2, 4, 6];
const gse40791YTicks = [0, 2, 4, 6];
const gse19804YTicks = [1, 2, 3, 4, 5];

const RATIO_LABEL = "Ratio (CD8+/CD4+ regulatory T cells)";

// plot rectangle in page pixels and the data range it shows
const panels = [
  { r: "R= \u22120.17***", y: "Score of CD8T cell", pts: cd8Points.concat(cd8Core), bx: bandX, fit: cd8Fit, up: cd8Upper, lo: cd8Lower, xt: xTicksAll, yt: cd8YTicks, d: 1,
    box: [49, 224, 28, 197], xr: [-.71, 14.28], yr: [-.429, .698], tx: 17 },
  { r: "R= \u22120.10*", y: "Score of CD4 Regulatory T cell", pts: tregPoints.concat(tregCore), bx: bandX, fit: tregFit, up: tregUpper, lo: tregLower, xt: xTicksAll, yt: tregYTicks, d: 2,
    box: [285, 455, 31, 197], xr: [-.74, 14.34], yr: [-1.109, .002], tx: 247 },
  { r: "R= \u22120.11*", y: "Score of NK cell", pts: nkPoints.concat(nkCore), bx: bandX, fit: nkFit, up: nkUpper, lo: nkLower, xt: xTicksAll, yt: nkYTicks, d: 2,
    box: [509, 679, 32, 197], xr: [-.73, 14.3], yr: [-1.078, .018], tx: 472 },
  { r: "R= \u22120.15***", y: "Score of T cell activity", pts: activityPoints.concat(activityCore), bx: bandX, fit: activityFit, up: activityUpper, lo: activityLower, xt: xTicksAll, yt: activityYTicks, d: 2,
    box: [54, 224, 248, 413], xr: [-.71, 14.3], yr: [-.498, .6], tx: 17 },
  { r: "R= \u22120.10*", y: "Score of MHC class 1", pts: mhcPoints.concat(mhcCore), bx: bandX, fit: mhcFit, up: mhcUpper, lo: mhcLower, xt: xTicksAll, yt: mhcYTicks, d: 2, xTitle: "Expression of ACE2 level", axisH: 43,
    box: [284, 453, 248, 415], xr: [-.64, 13.8], yr: [2.438, 3.545], tx: 252 },
  { r: "R= 0.16***", y: "Score of Type 2 IFN", pts: ifnPoints.concat(ifnCore), bx: bandX, fit: ifnFit, up: ifnUpper, lo: ifnLower, xt: xTicksAll, yt: ifnYTicks, d: 1,
    box: [506, 686, 248, 415], xr: [-.71, 14.3], yr: [-.22, .888], tx: 478 },
  { r: "R= \u22120.12**", y: RATIO_LABEL, pts: ratioPoints.concat(ratioCore), bx: bandX, fit: ratioFit, up: ratioUpper, lo: ratioLower, xt: xTicksAll, yt: ratioYTicks, d: 0,
    box: [28, 216, 566, 732], xr: [-.72, 14.3], yr: [-.3, 7.4], tx: 9 },
  { r: "R= \u22120.30**", y: RATIO_LABEL, pts: gse40791Points, bx: gse40791BandX, fit: gse40791Fit, up: gse40791Upper, lo: gse40791Lower, xt: gse40791XTicks, yt: gse40791YTicks, d: 0, xTitle: "Expression of ACE2 level", axisH: 36,
    box: [259, 448, 564, 730], xr: [1.84, 11.94], yr: [-.6, 6.85], tx: 240 },
  { r: "R= \u22120.27*", y: RATIO_LABEL, pts: gse19804Points, bx: gse19804BandX, fit: gse19804Fit, up: gse19804Upper, lo: gse19804Lower, xt: gse19804XTicks, yt: gse19804YTicks, d: 0,
    box: [486, 674, 563, 730], xr: [4.51, 9.97], yr: [.07, 5.29], tx: 467 }
];

const panelBackground = {
  id: "panelBackground",
  beforeDraw(chart) {
    const a = chart.chartArea;
    chart.ctx.fillStyle = "#ebebeb";
    chart.ctx.fillRect(a.left, a.top, a.right - a.left, a.bottom - a.top);
  }
};

// major ticks plus the thinner halfway grid lines ggplot draws
function withMinor(majors, min, max) {
  const step = majors[1] - majors[0];
  const all = [];
  for (let v = majors[0] - step / 2; v <= majors[majors.length - 1] + step; v += step / 2) {
    if (v >= min && v <= max) all.push({ value: v });
  }
  return all;
}

function isMajor(majors, v) {
  return majors.some(m => Math.abs(m - v) < 1e-6);
}

function axis(majors, range, digits, size, isY, title) {
  return {
    type: "linear",
    min: range[0],
    max: range[1],
    afterBuildTicks: s => { s.ticks = withMinor(majors, range[0], range[1]); },
    afterFit: s => { if (isY) s.width = size; else s.height = size; },
    grid: {
      color: c => "#ffffff",
      lineWidth: c => (c.tick && isMajor(majors, c.tick.value) ? 1.3 : 0.6),
      tickColor: c => (c.tick && isMajor(majors, c.tick.value) ? "#444444" : "rgba(0,0,0,0)"),
      tickWidth: 1,
      tickLength: 3,
      drawTicks: true
    },
    border: { display: false },
    ticks: {
      autoSkip: false,
      maxRotation: 0,
      padding: 1,
      color: "#6e6e6e",
      font: { family: "Liberation Sans", size: 11 },
      callback: v => (isMajor(majors, v) ? Number(v).toFixed(digits).replace("-", "\u2212") : "")
    },
    title: title
  };
}

panels.forEach(p => {
  const [left, right, top, bottom] = p.box;
  const canvasLeft = p.tx - 7;
  const axisH = p.axisH || 24;
  const canvasTop = top - 20;
  const el = document.createElement("canvas");
  el.width = right - canvasLeft + 2;
  el.height = bottom - canvasTop + axisH;
  el.style.left = canvasLeft + "px";
  el.style.top = canvasTop + "px";
  document.getElementById("page").appendChild(el);

  const xy = (xs, ys) => xs.map((x, i) => ({ x: x, y: ys[i] }));
  new Chart(el.getContext("2d"), {
    type: "scatter",
    plugins: [panelBackground],
    data: {
      datasets: [
        { data: xy(p.bx, p.fit), showLine: true, borderColor: "#3366ff", borderWidth: 2.6, pointRadius: 0, order: 1 },
        { data: xy(p.bx, p.up), showLine: true, borderWidth: 0, pointRadius: 0, fill: "+1", backgroundColor: "rgba(120,120,120,0.36)", order: 2 },
        { data: xy(p.bx, p.lo), showLine: true, borderWidth: 0, pointRadius: 0, order: 2 },
        { data: p.pts.map(d => ({ x: d[0], y: d[1] })), backgroundColor: "#ff0000", borderWidth: 0, pointRadius: 2.8, order: 3 }
      ]
    },
    options: {
      responsive: false,
      animation: false,
      layout: { padding: { right: 2 } },
      plugins: {
        legend: { display: false },
        tooltip: { enabled: false },
        title: {
          display: true,
          text: p.r,
          align: "start",
          fullSize: false,
          color: "#1a1a1a",
          font: { family: "Liberation Sans", size: 14.5, weight: "normal", lineHeight: 1 },
          padding: { top: 0, bottom: 5.5 }
        }
      },
      scales: {
        x: axis(p.xt, p.xr, 0, axisH, false, {
          display: !!p.xTitle,
          text: p.xTitle || "",
          color: "#333333",
          font: { family: "Liberation Sans", size: 12, lineHeight: 1.2 },
          padding: 0
        }),
        y: axis(p.yt, p.yr, p.d, left - canvasLeft, true, {
          display: true,
          text: p.y,
          color: "#1a1a1a",
          font: { family: "Liberation Sans", size: 12, lineHeight: 1.2 },
          padding: 0
        })
      }
    }
  });
});
</script>
</body>
</html>
